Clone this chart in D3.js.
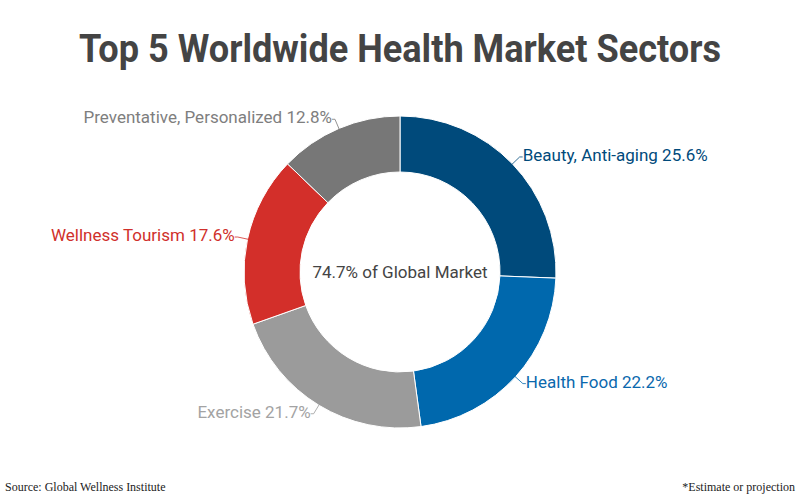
<!DOCTYPE html>
<html>
<head>
<meta charset="utf-8">
<script src="https://cdn.jsdelivr.net/npm/d3@7"></script>
<style>
  body { margin: 0; background: #fff; }
  svg { display: block; }
</style>
</head>
<body>
<div id="chart"></div>
<script>
// chart data
var sectors = ["Beauty, Anti-aging", "Health Food", "Exercise", "Wellness Tourism", "Preventative, Personalized"];
var shares = [25.6, 22.2, 21.7, 17.6, 12.8];
var sliceColors = ["#004a7b", "#0068ad", "#9b9b9b", "#d32f2a", "#777777"];
var labelColors = ["#004a7b", "#0a68ad", "#a3a3a3", "#d0302b", "#7e7e7e"];

var width = 800,
    height = 500,
    cx = 400,
    cy = 272,
    outerR = 156,
    innerR = 100,
    labelR = 166;

var svg = d3.select("#chart").append("svg")
    .attr("width", width)
    .attr("height", height);

// title
svg.append("text")
    .attr("x", cx)
    .attr("y", 62)
    .attr("text-anchor", "middle")
    .attr("textLength", 642)
    .attr("lengthAdjust", "spacingAndGlyphs")
    .style("font-family", "Roboto, sans-serif")
    .style("font-weight", "bold")
    .style("font-size", "38px")
    .style("fill", "#444")
    .text("Top 5 Worldwide Health Market Sectors");

var pie = d3.pie()
    .sort(null)
    .value(function(d) { return d; });

var arcs = pie(shares);

var arc = d3.arc()
    .innerRadius(innerR)
    .outerRadius(outerR);

var g = svg.append("g")
    .attr("transform", "translate(" + cx + "," + cy + ")");

g.selectAll(".slice")
    .data(arcs)
    .enter().append("path")
    .attr("class", "slice")
    .attr("d", arc)
    .style("fill", function(d, i) { return sliceColors[i]; })
    .style("stroke", "#fff")
    .style("stroke-width", 1);

function pointAt(angle, r) {
    return [Math.sin(angle) * r, -Math.cos(angle) * r];
}

function midAngle(d) {
    return (d.startAngle + d.endAngle) / 2;
}

var labels = g.selectAll(".label")
    .data(arcs)
    .enter().append("g")
    .attr("class", "label");

// connector lines
labels.append("polyline")
    .attr("points", function(d) {
        var mid = midAngle(d);
        var p0 = pointAt(mid, outerR - 1);
        var p1 = pointAt(mid, labelR);
        var right = Math.sin(mid) > 0;
        var p2 = [p1[0] + (right ? 3 : -3), p1[1]];
        return [p0, p1, p2].map(function(p) { return p.join(","); }).join(" ");
    })
    .style("fill", "none")
    .style("stroke", function(d, i) { return sliceColors[i]; })
    .style("stroke-width", 0.8);

labels.append("text")
    .attr("x", function(d) {
        var mid = midAngle(d);
        var p = pointAt(mid, labelR);
        return p[0] + (Math.sin(mid) > 0 ? 3 : -3);
    })
    .attr("y", function(d) {
        return pointAt(midAngle(d), labelR)[1] - 2;
    })
    .attr("dy", ".35em")
    .attr("text-anchor", function(d) {
        return Math.sin(midAngle(d)) > 0 ? "start" : "end";
    })
    .style("font-family", "Roboto, sans-serif")
    .style("font-size", "17px")
    .style("fill", function(d, i) { return labelColors[i]; })
    .text(function(d, i) { return sectors[i] + " " + shares[i].toFixed(1) + "%"; });

// center text
g.append("text")
    .attr("dy", ".35em")
    .attr("text-anchor", "middle")
    .style("font-family", "Roboto, sans-serif")
    .style("font-size", "17px")
    .style("fill", "#444")
    .text("74.7% of Global Market");

// footer
svg.append("text")
    .attr("x", 5)
    .attr("y", 491)
    .style("font-family", "'Liberation Serif', serif")
    .style("font-size", "12px")
    .style("fill", "#222")
    .text("Source: Global Wellness Institute");

svg.append("text")
    .attr("x", 795)
    .attr("y", 491)
    .attr("text-anchor", "end")
    .style("font-family", "'Liberation Serif', serif")
    .style("font-size", "12px")
    .style("fill", "#222")
    .text("*Estimate or projection");
</script>
</body>
</html>
